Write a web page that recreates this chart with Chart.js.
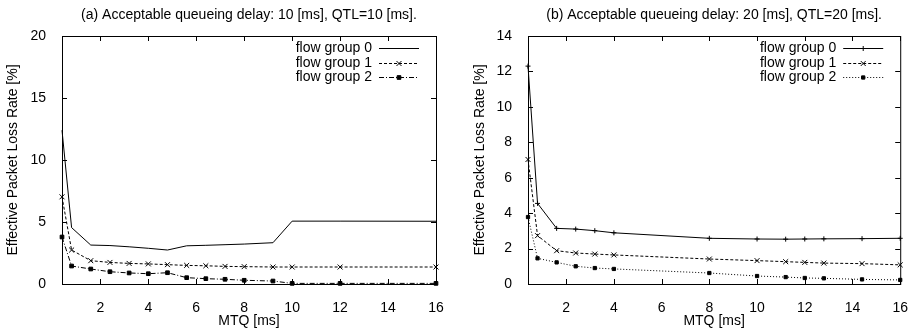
<!DOCTYPE html>
<html>
<head>
<meta charset="utf-8">
<script src="https://cdn.jsdelivr.net/npm/chart.js@4.4.1/dist/chart.umd.min.js"></script>
<style>
  body { margin: 0; background: #fff; }
  .panel { position: absolute; top: 0; width: 458px; height: 330px; }
  #panel-a { left: 0; }
  #panel-b { left: 458px; }
</style>
</head>
<body>
<div class="panel" id="panel-a"><canvas id="chart-a" width="458" height="330"></canvas></div>
<div class="panel" id="panel-b"><canvas id="chart-b" width="458" height="330"></canvas></div>
<script>
const groupNames = ['flow group 0', 'flow group 1', 'flow group 2'];
const xTickValues = [2, 4, 6, 8, 10, 12, 14, 16];

// (a) queueing delay 10 ms
const titleA = '(a) Acceptable queueing delay: 10 [ms], QTL=10 [ms].';
const mtqA = [0.4, 0.8, 1.6, 2.4, 3.2, 4.0, 4.8, 5.6, 6.4, 7.2, 8.0, 9.2, 10, 12, 16];
const lossA0 = [12.4, 4.55, 3.14, 3.1, 3.0, 2.88, 2.74, 3.08, 3.12, 3.17, 3.22, 3.33, 5.07, 5.07, 5.06];
const lossA1 = [7.03, 2.74, 1.88, 1.74, 1.66, 1.62, 1.56, 1.5, 1.47, 1.42, 1.4, 1.37, 1.37, 1.37, 1.37];
const lossA2 = [3.79, 1.45, 1.21, 0.99, 0.89, 0.83, 0.91, 0.51, 0.43, 0.38, 0.3, 0.24, 0.05, 0.05, 0.05];
const yTicksA = [0, 5, 10, 15, 20];

// (b) queueing delay 20 ms
const titleB = '(b) Acceptable queueing delay: 20 [ms], QTL=20 [ms].';
const mtqB = [0.4, 0.8, 1.6, 2.4, 3.2, 4.0, 8.0, 10, 11.2, 12, 12.8, 14.4, 16];
const lossB0 = [12.3, 4.55, 3.14, 3.1, 3.01, 2.89, 2.58, 2.54, 2.53, 2.54, 2.55, 2.56, 2.58];
const lossB1 = [7.03, 2.73, 1.88, 1.75, 1.69, 1.64, 1.41, 1.32, 1.26, 1.22, 1.18, 1.15, 1.08];
const lossB2 = [3.78, 1.45, 1.22, 1.0, 0.9, 0.85, 0.62, 0.45, 0.39, 0.34, 0.32, 0.26, 0.23];
const yTicksB = [0, 2, 4, 6, 8, 10, 12, 14];

const FONT = '"Liberation Sans", Arial, sans-serif';
const FONT_SIZE = 14;
Chart.defaults.font.family = FONT;
Chart.defaults.font.size = FONT_SIZE;
Chart.defaults.color = '#000';

const toPoints = (xs, ys) => xs.map((x, i) => ({ x, y: ys[i] }));

const series = (label, xs, ys, dash, pointStyle, radius) => ({
  label,
  data: toPoints(xs, ys),
  borderColor: '#000',
  backgroundColor: '#000',
  borderWidth: 1,
  borderDash: dash,
  pointStyle: pointStyle || 'circle',
  pointRadius: pointStyle ? radius : 0,
  pointBorderWidth: 1,
  tension: 0,
  clip: false
});

// gnuplot-like frame: border box, inward ticks on all sides, title, key in top-right
const framePlugin = {
  id: 'frame',
  afterDatasetsDraw(chart, args, opts) {
    const { ctx, chartArea: { left, right, top, bottom }, scales: { x, y } } = chart;
    ctx.save();
    ctx.strokeStyle = '#000';
    ctx.lineWidth = 1;
    ctx.setLineDash([]);
    ctx.strokeRect(left + 0.5, top + 0.5, right - left, bottom - top);

    const len = 5;
    ctx.beginPath();
    x.ticks.forEach(({ value }) => {
      const px = Math.round(x.getPixelForValue(value)) + 0.5;
      ctx.moveTo(px, bottom); ctx.lineTo(px, bottom - len);
      ctx.moveTo(px, top); ctx.lineTo(px, top + len);
    });
    y.ticks.forEach(({ value }) => {
      const py = Math.round(y.getPixelForValue(value)) + 0.5;
      ctx.moveTo(left, py); ctx.lineTo(left + len, py);
      ctx.moveTo(right, py); ctx.lineTo(right - len, py);
    });
    ctx.stroke();

    ctx.font = `${FONT_SIZE}px ${FONT}`;
    ctx.fillStyle = '#000';
    ctx.textBaseline = 'middle';
    ctx.textAlign = 'center';
    ctx.fillText(opts.title, (left + right) / 2, 15);

    ctx.textAlign = 'right';
    chart.data.datasets.forEach((ds, i) => {
      const rowY = Math.round(top + 12 + i * 14.5) + 0.5;
      ctx.fillText(ds.label, right - 64, rowY);
      const x0 = right - 57;
      const x1 = right - 17;
      ctx.beginPath();
      ctx.setLineDash(ds.borderDash || []);
      ctx.moveTo(x0, rowY);
      ctx.lineTo(x1, rowY);
      ctx.stroke();
      ctx.setLineDash([]);
      if (ds.pointRadius > 0) {
        Chart.helpers.drawPoint(ctx, {
          pointStyle: ds.pointStyle, radius: ds.pointRadius, borderWidth: 1, rotation: 0
        }, (x0 + x1) / 2, rowY);
      }
    });
    ctx.restore();
  }
};

const makeChart = (id, title, datasets, yTicks, yWidth, yTitlePad, rightPad) => {
  const ctx = document.getElementById(id).getContext('2d');
  return new Chart(ctx, {
    type: 'line',
    data: { datasets },
    options: {
      responsive: false,
      animation: false,
      devicePixelRatio: 1,
      layout: { padding: { left: 0, right: rightPad, top: 36, bottom: 0 } },
      plugins: {
        legend: { display: false },
        tooltip: { enabled: false },
        frame: { title }
      },
      scales: {
        x: {
          type: 'linear',
          min: 0.4,
          max: 16,
          grid: { display: false },
          border: { display: false },
          ticks: { padding: 8, maxRotation: 0, autoSkip: false },
          afterBuildTicks: axis => { axis.ticks = xTickValues.map(value => ({ value })); },
          afterFit: axis => { axis.height = 46; },
          title: { display: true, text: 'MTQ [ms]', padding: { top: 0, bottom: 0 } }
        },
        y: {
          min: yTicks[0],
          max: yTicks[yTicks.length - 1],
          grid: { display: false },
          border: { display: false },
          ticks: { padding: 8 },
          afterBuildTicks: axis => { axis.ticks = yTicks.map(value => ({ value })); },
          afterFit: axis => { axis.width = yWidth; },
          title: {
            display: true,
            text: 'Effective Packet Loss Rate [%]',
            padding: { top: yTitlePad, bottom: 0 }
          }
        }
      }
    },
    plugins: [framePlugin]
  });
};

const onLoad = () => {
  makeChart('chart-a', titleA, [
    series(groupNames[0], mtqA, lossA0, []),
    series(groupNames[1], mtqA, lossA1, [3, 2], 'crossRot', 3.5),
    series(groupNames[2], mtqA, lossA2, [5, 2, 1, 2], 'rect', 2.6)
  ], yTicksA, 62, 4.6, 22);

  makeChart('chart-b', titleB, [
    series(groupNames[0], mtqB, lossB0, [], 'cross', 2.5),
    series(groupNames[1], mtqB, lossB1, [3, 2], 'crossRot', 3.5),
    series(groupNames[2], mtqB, lossB2, [1, 2], 'rect', 2.3)
  ], yTicksB, 70, 13.6, 14);
};

window.onload = onLoad;
</script>
</body>
</html>
